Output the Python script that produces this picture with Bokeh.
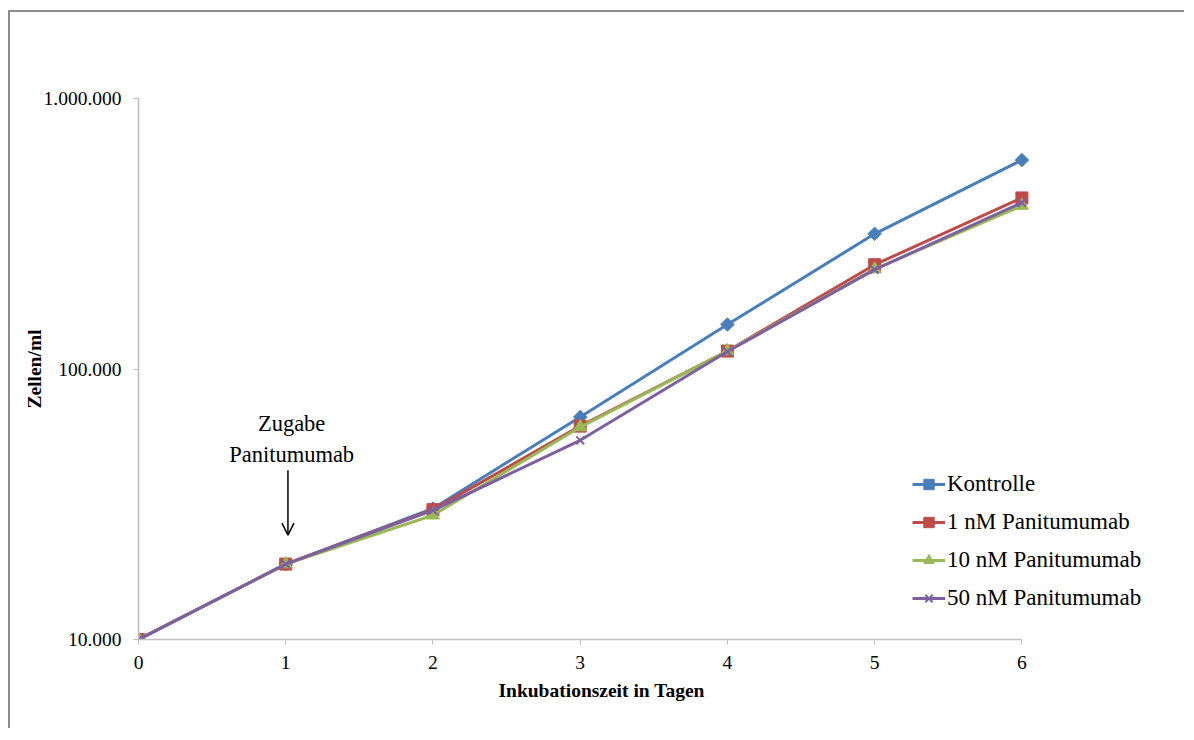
import numpy as np
from bokeh.plotting import figure
from bokeh.models import FixedTicker, Legend, LegendItem, Arrow, OpenHead, Title, Label
from bokeh.embed import file_html
from bokeh.resources import INLINE

# ---- data ----
days = [0, 1, 2, 3, 4, 5, 6]
kontrolle = [10000, 19000, 30500, 66500, 146000, 316000, 592000]
nm1 = [10000, 19000, 30200, 61500, 116500, 243000, 429000]
nm10 = [10000, 19000, 28800, 61000, 116500, 234000, 402000]
nm50 = [10000, 19000, 30000, 54500, 116000, 233000, 412000]
series_names = ["Kontrolle", "1 nM Panitumumab", "10 nM Panitumumab", "50 nM Panitumumab"]
x_ticks = [0, 1, 2, 3, 4, 5, 6]
y_ticks = [10000, 100000, 1000000]
y_tick_labels = ["10.000", "100.000", "1.000.000"]
annotation_lines = ["Zugabe", "Panitumumab"]
annotation_x = 1.04
annotation_y = [62900, 48300]
arrow_x = 1.015
arrow_y = (42200, 24300)

FONT = "Liberation Serif"
AXIS_GRAY = "#BFBFBF"
X_VIEW_MAX = 7.05   # frame extends past the axis end so the legend is not clipped

p = figure(width=1176, height=718, y_axis_type="log",
           x_range=(0, X_VIEW_MAX), y_range=(10000, 1000000),
           output_backend="svg", toolbar_location=None,
           min_border_left=128, min_border_right=10,
           min_border_top=86, min_border_bottom=91)
p.styles = {"border-left": "2px solid #8C8C8C", "border-top": "2px solid #8C8C8C",
            "margin-left": "8px", "margin-top": "10px"}
p.outline_line_color = None
p.xgrid.visible = False
p.ygrid.visible = False
p.background_fill_color = "white"
p.border_fill_color = "white"

p.xaxis.ticker = FixedTicker(ticks=x_ticks)
p.xaxis.bounds = (0, 6)
p.yaxis.ticker = FixedTicker(ticks=y_ticks)
p.yaxis.major_label_overrides = dict(zip(y_ticks, y_tick_labels))
for ax in (p.xaxis, p.yaxis):
    ax.major_tick_in = 0
    ax.major_tick_out = 5
    ax.minor_tick_in = 0
    ax.minor_tick_out = 0
    ax.axis_line_color = AXIS_GRAY
    ax.axis_line_width = 1.5
    ax.major_tick_line_color = AXIS_GRAY
    ax.major_label_text_font = FONT
    ax.major_label_text_font_size = "19.5px"
    ax.major_label_text_color = "black"
p.xaxis.major_label_standoff = 11
p.yaxis.major_label_standoff = 12
p.yaxis.axis_label = "Zellen/ml"
p.yaxis.axis_label_text_font = FONT
p.yaxis.axis_label_text_font_size = "19.5px"
p.yaxis.axis_label_text_font_style = "bold"
p.yaxis.axis_label_text_color = "black"
p.yaxis.axis_label_standoff = -4

p.add_layout(Title(text="Inkubationszeit in Tagen", align="left", offset=360,
                   text_font=FONT, text_font_size="19.5px", text_font_style="bold",
                   text_color="black", vertical_align="top", standoff=16), "below")

styles = [
    (kontrolle, "#4A7EBB", dict(marker="square", angle=np.pi / 4, size=9.5)),
    (nm1, "#BE4B48", dict(marker="square", size=12)),
    (nm10, "#98B954", dict(marker="triangle", size=13)),
    (nm50, "#7D60A0", dict(marker="x", size=11, line_width=2)),
]
items = []
for (vals, color, mk), name in zip(styles, series_names):
    rl = p.line(days, vals, line_color=color, line_width=3)
    rs = p.scatter(days, vals, fill_color=color, line_color=color, **mk)
    items.append(LegendItem(label=name, renderers=[rl, rs]))

legend = Legend(items=items, location=(774, 28), orientation="vertical",
                padding=0, margin=0, spacing=12, glyph_width=33, glyph_height=26,
                label_height=26, label_standoff=2,
                label_text_font=FONT, label_text_font_size="23px",
                label_text_color="black",
                border_line_color=None, background_fill_alpha=0)
p.add_layout(legend)

for txt, yv in zip(annotation_lines, annotation_y):
    p.add_layout(Label(x=annotation_x, y=yv, text=txt, text_font=FONT,
                       text_font_size="22.5px", text_align="center",
                       text_baseline="alphabetic", text_color="black"))
p.add_layout(Arrow(end=OpenHead(size=12, line_width=1.5, line_color="black"),
                   x_start=arrow_x, y_start=arrow_y[0], x_end=arrow_x, y_end=arrow_y[1],
                   line_width=1.5, line_color="black"))

open("out.html", "w").write(file_html(p, INLINE))
